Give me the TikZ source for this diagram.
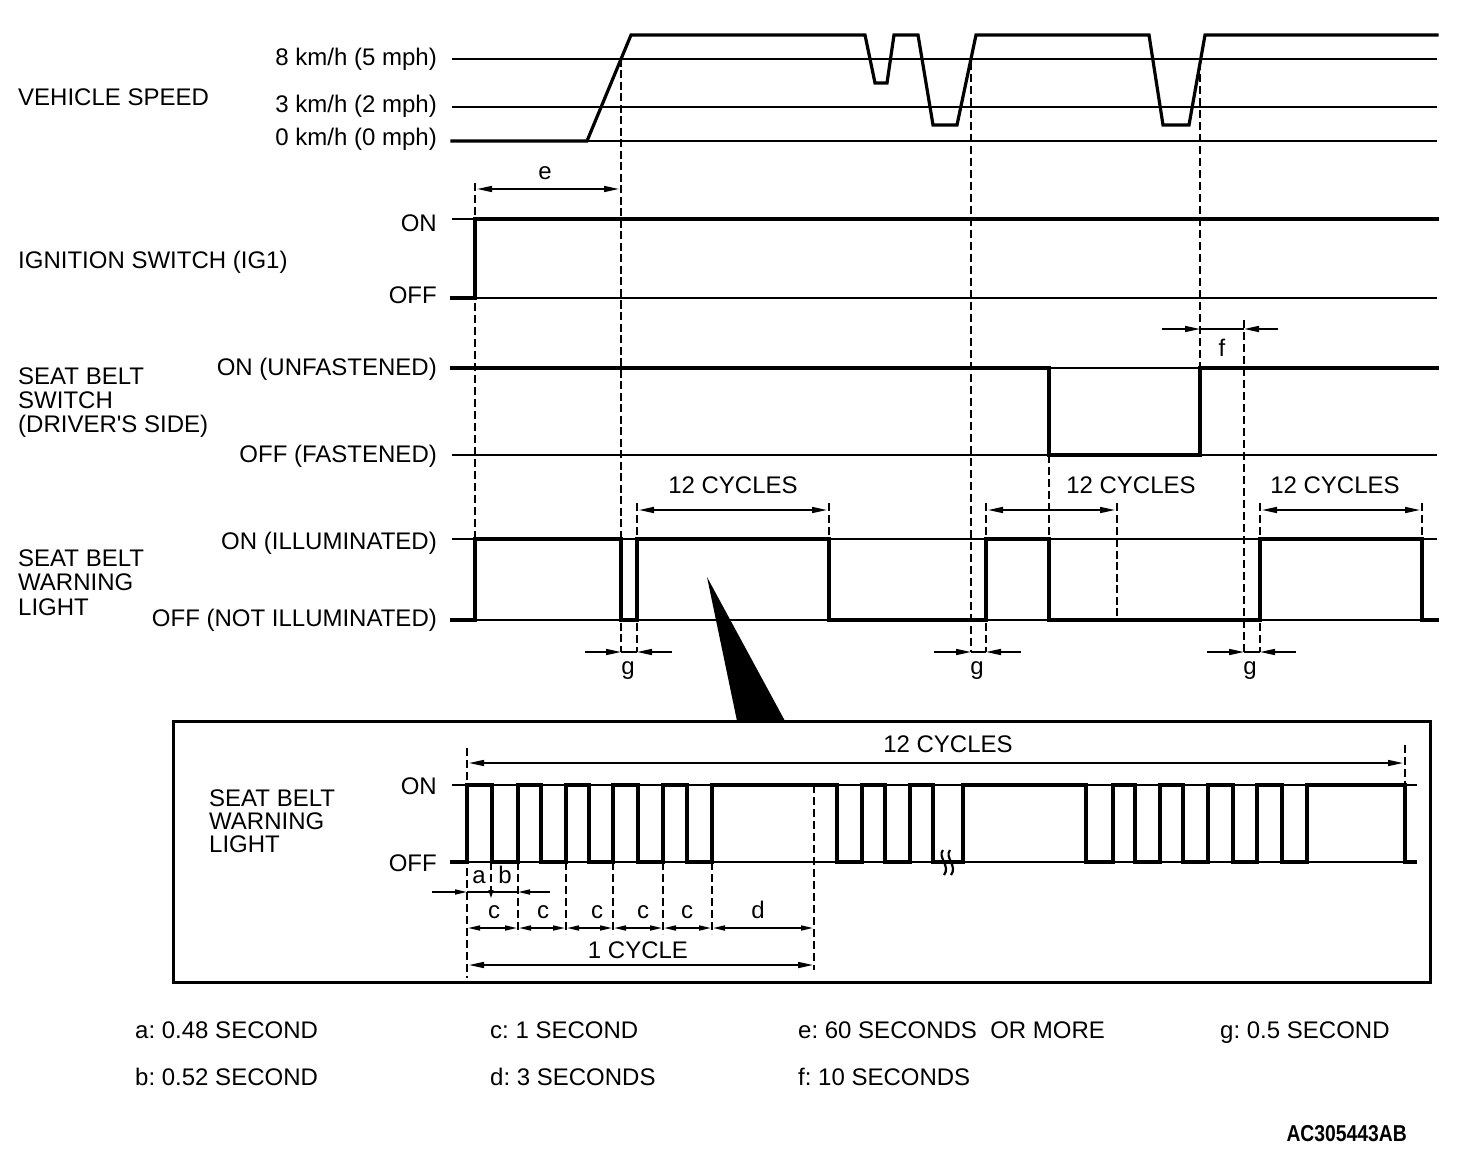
\documentclass[tikz,border=0pt]{standalone}
\usepackage{fontspec}
\setmainfont{Liberation Sans}
\usetikzlibrary{arrows.meta}
\frenchspacing
\begin{document}
\begin{tikzpicture}[x=1pt,y=-1pt,
  lbl/.style={font=\fontsize{24}{24}\selectfont, inner sep=0pt},
  refl/.style={line width=2pt},
  wave/.style={line width=3.2pt, line join=miter, line cap=rect},
  dsh/.style={line width=1.6pt, dash pattern=on 8pt off 4pt},
  dshk/.style={line width=2.8pt, dash pattern=on 8pt off 3.5pt},
  dim/.style={line width=1.6pt},
  tipr/.style={-{Triangle[length=15pt,width=6pt]}},
  dbl/.style={arrows={Triangle[length=15pt,width=6pt]-Triangle[length=15pt,width=6pt]}},
  sdbl/.style={arrows={Triangle[length=12pt,width=5pt]-Triangle[length=12pt,width=5pt]}},
  stip/.style={-{Triangle[length=12pt,width=5pt]}},
]
\useasboundingbox (0,0) rectangle (1472,1150);

% ---------- left labels ----------
\node[lbl,anchor=base west] (vs) at (18,106) {VEHICLE SPEED};
\node[lbl,anchor=base east] (s8) at (437,66) {8 km/h (5 mph)};
\node[lbl,anchor=base east] (s3) at (437,113) {3 km/h (2 mph)};
\node[lbl,anchor=base east] (s0) at (437,146) {0 km/h (0 mph)};
\node[lbl,anchor=base east] (igon) at (437,232) {ON};
\node[lbl,anchor=base west] (igl) at (18,269) {IGNITION SWITCH (IG1)};
\node[lbl,anchor=base east] (igoff) at (437,304) {OFF};
\node[lbl,anchor=base west] (sb1) at (18,384) {SEAT BELT};
\node[lbl,anchor=base west] (sb2) at (18,408) {SWITCH};
\node[lbl,anchor=base west] (sb3) at (18,432) {(DRIVER\textquotesingle S SIDE)};
\node[lbl,anchor=base east] (sbon) at (437,375) {ON (UNFASTENED)};
\node[lbl,anchor=base east] (sboff) at (437,462) {OFF (FASTENED)};
\node[lbl,anchor=base west] (wl1) at (18,566) {SEAT BELT};
\node[lbl,anchor=base west] (wl2) at (18,590) {WARNING};
\node[lbl,anchor=base west] (wl3) at (18,615) {LIGHT};
\node[lbl,anchor=base east] (wlon) at (437,549) {ON (ILLUMINATED)};
\node[lbl,anchor=base east] (wloff) at (437,626) {OFF (NOT ILLUMINATED)};

% ---------- reference lines ----------
\foreach \yy in {59,107,141,219,298,368,455,539,620}
  \draw[refl] (452,\yy) -- (1437,\yy);

% ---------- dashed guides ----------
\draw[dsh] (475,183) -- (475,539);
\draw[dshk] (621,59) -- (621,652);
\draw[dsh] (637,503) -- (637,652);
\draw[dsh] (829,503) -- (829,539);
\draw[dsh] (971,62) -- (971,652);
\draw[dsh] (986,503) -- (986,652);
\draw[dsh] (1049,455) -- (1049,539);
\draw[dsh] (1117,503) -- (1117,539);
\draw[dshk] (1117,539) -- (1117,620);
\draw[dsh] (1200,62) -- (1200,368);
\draw[dsh] (1244,320) -- (1244,652);
\draw[dsh] (1260,503) -- (1260,652);
\draw[dsh] (1422,503) -- (1422,539);

% ---------- waveforms ----------
\draw[wave] (452,141) -- (587,141) -- (631,35) -- (865,35) -- (875,83) -- (887,83)
  -- (894,35) -- (918,35) -- (933,125) -- (957,125) -- (976,35) -- (1149,35)
  -- (1163,125) -- (1189,125) -- (1205,35) -- (1437,35);
\draw[wave, line width=4pt] (452,298) -- (475,298) -- (475,219) -- (1437,219);
\draw[wave] (452,368) -- (1049,368) -- (1049,455) -- (1200,455) -- (1200,368) -- (1437,368);
\draw[wave] (452,620) -- (475,620) -- (475,539) -- (621,539) -- (621,620) -- (637,620)
  -- (637,539) -- (829,539) -- (829,620) -- (986,620) -- (986,539) -- (1049,539)
  -- (1049,620) -- (1260,620) -- (1260,539) -- (1422,539) -- (1422,620) -- (1437,620);

% ---------- dimensions ----------
\draw[dim,dbl] (477,189) -- (619,189);
\node[lbl,anchor=base] (le) at (545,180) {e};

\draw[dim,tipr] (1162,329) -- (1200,329);
\draw[dim] (1200,329) -- (1244,329);
\draw[dim,tipr] (1278,329) -- (1244,329);
\node[lbl,anchor=base] (lf) at (1222,356) {f};

\draw[dim,dbl] (639,510) -- (827,510);
\node[lbl,anchor=base] (c1) at (733,493) {12 CYCLES};
\draw[dim,dbl] (988,510) -- (1115,510);
\node[lbl,anchor=base] (c2) at (1131,493) {12 CYCLES};
\draw[dim,dbl] (1262,510) -- (1420,510);
\node[lbl,anchor=base] (c3) at (1335,493) {12 CYCLES};

\draw[dim,tipr] (585,652) -- (621,652);
\draw[dim] (621,652) -- (637,652);
\draw[dim,tipr] (672,652) -- (637,652);
\node[lbl,anchor=base] (g1) at (628,674) {g};
\draw[dim,tipr] (934,652) -- (971,652);
\draw[dim] (971,652) -- (986,652);
\draw[dim,tipr] (1021,652) -- (986,652);
\node[lbl,anchor=base] (g2) at (977,674) {g};
\draw[dim,tipr] (1207,652) -- (1244,652);
\draw[dim] (1244,652) -- (1260,652);
\draw[dim,tipr] (1296,652) -- (1260,652);
\node[lbl,anchor=base] (g3) at (1250,674) {g};

% ---------- pointer ----------
\fill (707,577) -- (737,721) -- (785,721) -- cycle;

% ---------- detail box ----------
\draw[line width=3pt] (173,721) rectangle (1430,982);
\node[lbl,anchor=base west] (bl1) at (209,806) {SEAT BELT};
\node[lbl,anchor=base west] (bl2) at (209,829) {WARNING};
\node[lbl,anchor=base west] (bl3) at (209,852) {LIGHT};
\node[lbl,anchor=base east] (bon) at (437,794) {ON};
\node[lbl,anchor=base east] (boff) at (437,871) {OFF};

\draw[refl] (452,785) -- (1417,785);
\draw[refl] (452,862) -- (1417,862);

\draw[dsh] (467,748) -- (467,978);
\draw[dsh] (1405,745) -- (1405,785);
\draw[dsh] (814,785) -- (814,970);
\draw[dsh] (491,862) -- (491,886);
\foreach \xx in {518,566,613,663,712}
  \draw[dsh] (\xx,862) -- (\xx,934);

\draw[wave, line width=3.4pt] (452,862) -- (467,862) -- (467,785) -- (492,785) -- (492,862)
  -- (518,862) -- (518,785) -- (541,785) -- (541,862) -- (566,862) -- (566,785)
  -- (589,785) -- (589,862) -- (613,862) -- (613,785) -- (638,785) -- (638,862)
  -- (663,862) -- (663,785) -- (687,785) -- (687,862) -- (712,862) -- (712,785)
  -- (837,785) -- (837,862) -- (862,862) -- (862,785) -- (885,785) -- (885,862)
  -- (910,862) -- (910,785) -- (933,785) -- (933,862) -- (963,862) -- (963,785)
  -- (1086,785) -- (1086,862) -- (1113,862) -- (1113,785) -- (1135,785) -- (1135,862)
  -- (1160,862) -- (1160,785) -- (1183,785) -- (1183,862) -- (1208,862) -- (1208,785)
  -- (1233,785) -- (1233,862) -- (1257,862) -- (1257,785) -- (1282,785) -- (1282,862)
  -- (1307,862) -- (1307,785) -- (1405,785) -- (1405,862) -- (1415,862);

% break mark
\draw[line width=2.2pt] (943,850) .. controls (937,857) and (951,866) .. (944,875);
\draw[line width=2.2pt] (950,850) .. controls (944,857) and (958,866) .. (951,875);

\draw[dim,dbl] (469,763) -- (1403,763);
\node[lbl,anchor=base] (bc) at (948,752) {12 CYCLES};

\draw[dim,stip] (432,892) -- (467,892);
\draw[dim] (467,892) -- (518,892);
\draw[dim,stip] (550,892) -- (518,892);
\draw[line width=1.2pt,-{Triangle[length=8pt,width=5pt]}] (491,886) -- (491,898);
\node[lbl,anchor=base] (la) at (479,883) {a};
\node[lbl,anchor=base] (lb) at (505,883) {b};

\draw[dim,sdbl] (468,928) -- (517,928);
\draw[dim,sdbl] (519,928) -- (565,928);
\draw[dim,sdbl] (567,928) -- (612,928);
\draw[dim,sdbl] (614,928) -- (662,928);
\draw[dim,sdbl] (664,928) -- (711,928);
\draw[dim,sdbl] (713,928) -- (813,928);
\node[lbl,anchor=base] (lc1) at (494,918) {c};
\node[lbl,anchor=base] (lc2) at (543,918) {c};
\node[lbl,anchor=base] (lc3) at (597,918) {c};
\node[lbl,anchor=base] (lc4) at (643,918) {c};
\node[lbl,anchor=base] (lc5) at (687,918) {c};
\node[lbl,anchor=base] (ld) at (758,918) {d};

\draw[dim,dbl] (469,965) -- (813,965);
\node[lbl,anchor=base] (cyc) at (638,958) {1 CYCLE};

% ---------- legend ----------
\node[lbl,anchor=base west] (ka) at (135,1038) {a: 0.48 SECOND};
\node[lbl,anchor=base west] (kb) at (135,1085) {b: 0.52 SECOND};
\node[lbl,anchor=base west] (kc) at (490,1038) {c: 1 SECOND};
\node[lbl,anchor=base west] (kd) at (490,1085) {d: 3 SECONDS};
\node[lbl,anchor=base west] (ke) at (798,1038) {e: 60 SECONDS\ \ OR MORE};
\node[lbl,anchor=base west] (kf) at (798,1085) {f: 10 SECONDS};
\node[lbl,anchor=base west] (kg) at (1220,1038) {g: 0.5 SECOND};
\node[inner sep=0pt,anchor=base east] (code) at (1407,1141)
  {\scalebox{0.84}[1]{\fontsize{23}{23}\selectfont\bfseries AC305443AB}};
\end{tikzpicture}
\end{document}
